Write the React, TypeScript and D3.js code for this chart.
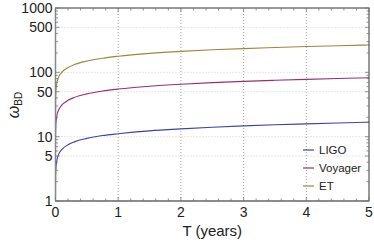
import React from 'react';
import * as d3 from 'd3';

// T in years, omega_BD
const years = [0.0001, 0.001, 0.005, 0.01, 0.02, 0.05, 0.1, 0.2, 0.3, 0.5, 0.75, 1, 1.5, 2, 2.5, 3, 3.5, 4, 4.5, 5];
const ligo = [1.1, 2.0, 3.0, 3.5, 4.2, 5.3, 6.3, 7.5, 8.3, 9.4, 10.4, 11.1, 12.3, 13.2, 14.0, 14.7, 15.3, 15.8, 16.3, 16.8];
const voyager = [5.5, 9.8, 14.6, 17.4, 20.7, 26, 30.9, 36.8, 40.7, 46.3, 51.2, 55, 60.9, 65.4, 69.1, 72.4, 75.2, 77.8, 80.1, 82.2];
const et = [17.8, 31.7, 47.3, 56.3, 66.9, 84.2, 100, 119, 132, 150, 166, 178, 197, 212, 224, 234, 243, 252, 259, 266];

const seriesNames = ['LIGO', 'Voyager', 'ET'];
const seriesColors = ['#4141ad', '#9c2e6c', '#9a893a'];
const xTicks = [0, 1, 2, 3, 4, 5];
const yTicks = [1, 5, 10, 50, 100, 500, 1000];
const yGrid = [5, 10, 50, 100, 500];

const W = 374;
const H = 242;
const m = { top: 8, right: 5, bottom: 41, left: 55.5 };

export default function App() {
  const x = d3.scaleLinear().domain([0, 5]).range([m.left, W - m.right]);
  const y = d3.scaleLog().domain([1, 1000]).range([H - m.bottom, m.top]);
  const x0 = x.range()[0], x1 = x.range()[1];
  const y0 = y.range()[0], y1 = y.range()[1];

  const line = d3.line<number>()
    .x((d, i) => x(years[i]))
    .y(d => y(d))
    .curve(d3.curveMonotoneX);

  const all = [ligo, voyager, et];

  // minor ticks
  const xMinor = d3.range(0, 5.001, 0.2);
  const yMinor: number[] = [];
  [1, 10, 100].forEach(dec => { for (let k = 1; k < 10; k++) yMinor.push(dec * k); });
  yMinor.push(1000);

  const font = 'Liberation Sans, Arial, sans-serif';

  return (
    <svg width={W} height={H} style={{ position: 'absolute', left: 0, top: 0 }}>
      <defs>
        <clipPath id="plot"><rect x={x0} y={y1} width={x1 - x0} height={y0 - y1} /></clipPath>
      </defs>
      <rect width={W} height={H} fill="#fff" />
      {/* grid */}
      {xTicks.slice(1, -1).map(t => (
        <line key={'gx' + t} x1={x(t)} x2={x(t)} y1={y1} y2={y0} stroke="#a0a0a0" strokeWidth={1} strokeDasharray="1,2" />
      ))}
      {yGrid.map(t => (
        <line key={'gy' + t} x1={x0} x2={x1} y1={y(t)} y2={y(t)} stroke="#cfcfcf" strokeWidth={1} strokeDasharray="1,2" />
      ))}
      {/* curves */}
      <g clipPath="url(#plot)">
        {all.map((s, i) => (
          <path key={i} d={line(s) || ''} fill="none" stroke={seriesColors[i]} strokeWidth={1.1} />
        ))}
      </g>
      {/* frame */}
      <rect x={x0} y={y1} width={x1 - x0} height={y0 - y1} fill="none" stroke="#333" strokeWidth={1} />
      <line x1={x0} x2={x1} y1={y0} y2={y0} stroke="#888" strokeWidth={1.5} />
      <line x1={x0} x2={x0} y1={y0} y2={y1} stroke="#888" strokeWidth={1.5} />
      {/* x ticks */}
      {xMinor.map((t, i) => {
        const major = Math.abs(t - Math.round(t)) < 1e-6;
        const len = major ? 4 : 2.5;
        return (
          <g key={'xt' + i} stroke="#777" strokeWidth={0.8}>
            <line x1={x(t)} x2={x(t)} y1={y0} y2={y0 - len} />
            <line x1={x(t)} x2={x(t)} y1={y1} y2={y1 + len} />
          </g>
        );
      })}
      {/* y ticks */}
      {yMinor.map((t, i) => {
        const major = yTicks.includes(t);
        const len = major ? 4 : 2.5;
        return (
          <g key={'yt' + i} stroke="#777" strokeWidth={0.8}>
            <line x1={x0} x2={x0 + len} y1={y(t)} y2={y(t)} />
            <line x1={x1} x2={x1 - len} y1={y(t)} y2={y(t)} />
          </g>
        );
      })}
      {/* tick labels */}
      {xTicks.map(t => (
        <text key={'xl' + t} x={x(t)} y={y0 + 16} textAnchor="middle" fontFamily={font} fontSize={14} fill="#222">{t}</text>
      ))}
      {yTicks.map(t => (
        <text key={'yl' + t} x={x0 - 3} y={y(t) + 5} textAnchor="end" fontFamily={font} fontSize={14} fill="#222">{t}</text>
      ))}
      {/* axis titles */}
      <text x={(x0 + x1) / 2} y={236} textAnchor="middle" fontFamily={font} fontSize={15} fill="#222">T (years)</text>
      <text transform="translate(19,105) rotate(-90)" textAnchor="middle" fontFamily={font} fontSize={16} fill="#222">
        <tspan fontStyle="italic">ω</tspan><tspan fontSize={10} dy={3}>BD</tspan>
      </text>
      {/* legend */}
      {seriesNames.map((n, i) => (
        <g key={n} transform={`translate(303,${150 + i * 18})`}>
          <line x1={0} x2={11} y1={0} y2={0} stroke={seriesColors[i]} strokeWidth={1.2} />
          <text x={16} y={4} fontFamily={font} fontSize={11.5} fill="#222">{n}</text>
        </g>
      ))}
    </svg>
  );
}
